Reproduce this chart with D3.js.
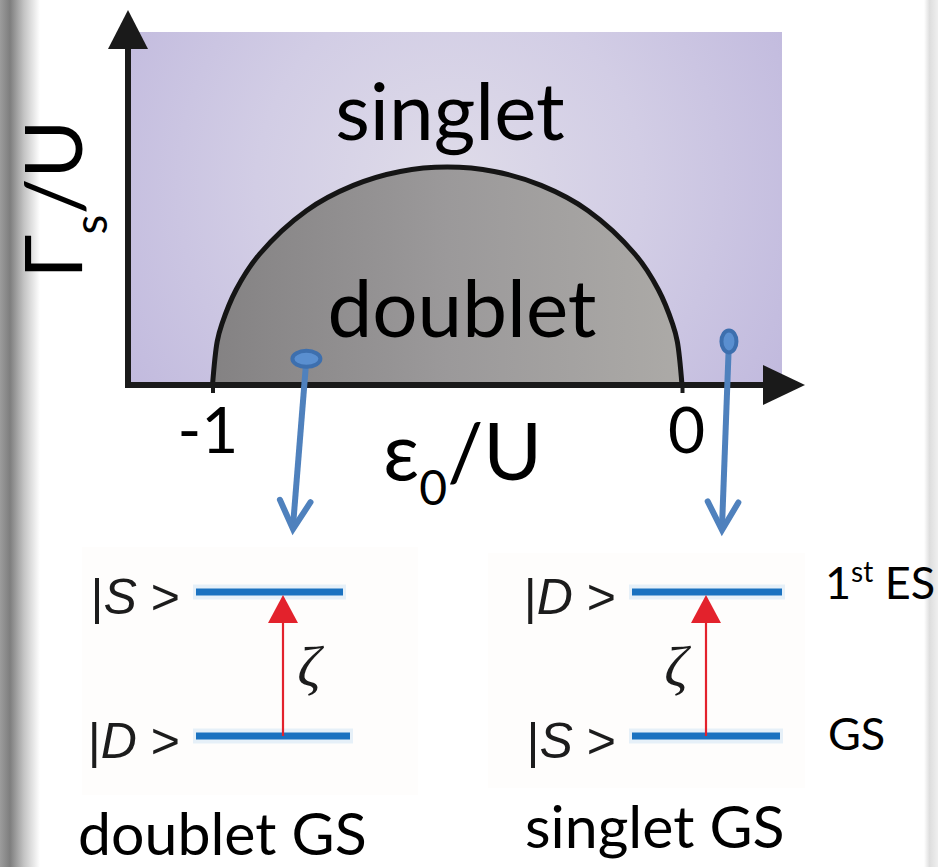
<!DOCTYPE html>
<html>
<head>
<meta charset="utf-8">
<script src="https://cdn.jsdelivr.net/npm/d3@7"></script>
<style>
  html, body { margin: 0; padding: 0; background: #ffffff; }
  svg { display: block; }
</style>
</head>
<body>
<div id="chart"></div>
<script>
// ---- data -------------------------------------------------------------
// phase boundary Γs/U(ε0/U) between the doublet dome and the singlet region
const boundaryEps   = [-1.00, -0.99, -0.98, -0.95, -0.90, -0.80, -0.70, -0.60, -0.50, -0.40, -0.30, -0.20, -0.10, -0.05, -0.02, -0.01, 0.00];
const boundaryGamma = [ 0.000, 0.100, 0.140, 0.218, 0.300, 0.400, 0.458, 0.490, 0.500, 0.490, 0.458, 0.400, 0.300, 0.218, 0.140, 0.100, 0.000];
const xTickValues = [-1, 0];
const xTickLabels = ["-1", "0"];
const phaseNames = ["singlet", "doublet"];
// probe points picked in the phase diagram (one per level scheme)
const probeEps   = [-0.80, 0.10];
const probeGamma = [ 0.06, 0.10];
// level schemes: ground (0) and first excited (1) states
const upperStates = ["S", "D"];
const lowerStates = ["D", "S"];
const schemeTitles = ["doublet GS", "singlet GS"];
const levelNames = ["1st ES", "GS"];

// ---- layout -------------------------------------------------------------
const W = 938, H = 867;
const plot = { left: 128, right: 782, top: 32, bottom: 385 };
const svg = d3.select("#chart").append("svg").attr("width", W).attr("height", H);
const defs = svg.append("defs");

const x = d3.scaleLinear().domain([-1.18, 0.213]).range([plot.left, plot.right]);
const y = d3.scaleLinear().domain([0, 0.81]).range([plot.bottom, plot.top]);

const ink = "#1a1a1a";
const mainFont = "Lato, 'Open Sans', sans-serif";

// gradients
const bg = defs.append("radialGradient").attr("id", "bgGrad")
  .attr("gradientUnits", "userSpaceOnUse").attr("cx", 450).attr("cy", 185).attr("r", 430);
bg.append("stop").attr("offset", 0).attr("stop-color", "#dfdce9");
bg.append("stop").attr("offset", 0.45).attr("stop-color", "#d2cde5");
bg.append("stop").attr("offset", 1).attr("stop-color", "#bdb5dc");

const dome = defs.append("linearGradient").attr("id", "domeGrad")
  .attr("gradientUnits", "userSpaceOnUse").attr("x1", x(-1)).attr("x2", x(0)).attr("y1", 0).attr("y2", 0);
dome.append("stop").attr("offset", 0).attr("stop-color", "#848283");
dome.append("stop").attr("offset", 0.5).attr("stop-color", "#9b999a");
dome.append("stop").attr("offset", 1).attr("stop-color", "#acaaa7");

const shL = defs.append("linearGradient").attr("id", "shadowL")
  .attr("gradientUnits", "userSpaceOnUse").attr("x1", 0).attr("x2", 40).attr("y1", 0).attr("y2", 0);
shL.append("stop").attr("offset", 0).attr("stop-color", "#9c9c9c");
shL.append("stop").attr("offset", 0.25).attr("stop-color", "#7e7e7e");
shL.append("stop").attr("offset", 0.6).attr("stop-color", "#c4c4c4");
shL.append("stop").attr("offset", 1).attr("stop-color", "#ffffff");

const shR = defs.append("linearGradient").attr("id", "shadowR")
  .attr("gradientUnits", "userSpaceOnUse").attr("x1", 924).attr("x2", 938).attr("y1", 0).attr("y2", 0);
shR.append("stop").attr("offset", 0).attr("stop-color", "#ffffff");
shR.append("stop").attr("offset", 0.4).attr("stop-color", "#dedede");
shR.append("stop").attr("offset", 1).attr("stop-color", "#efefef");

defs.append("filter").attr("id", "soft")
  .attr("filterUnits", "userSpaceOnUse").attr("x", 0).attr("y", 0).attr("width", W).attr("height", H)
  .append("feGaussianBlur").attr("stdDeviation", 0.6);

// page edges
svg.append("rect").attr("x", 0).attr("y", 0).attr("width", 40).attr("height", H).attr("fill", "url(#shadowL)");
svg.append("rect").attr("x", 924).attr("y", 0).attr("width", 14).attr("height", H).attr("fill", "url(#shadowR)");

// ---- phase diagram ------------------------------------------------------
svg.append("rect")
  .attr("x", plot.left).attr("y", plot.top)
  .attr("width", plot.right - plot.left).attr("height", plot.bottom - plot.top)
  .attr("fill", "url(#bgGrad)");

const boundary = boundaryEps.map((e, i) => [e, boundaryGamma[i]]);
const area = d3.area().x(d => x(d[0])).y0(y(0)).y1(d => y(d[1])).curve(d3.curveCatmullRom);
const line = d3.line().x(d => x(d[0])).y(d => y(d[1])).curve(d3.curveCatmullRom);

svg.append("path").datum(boundary).attr("d", area).attr("fill", "url(#domeGrad)");
svg.append("path").datum(boundary).attr("d", line)
  .attr("fill", "none").attr("stroke", "#151515").attr("stroke-width", 5);

// axes with arrowheads
const xEnd = x.range()[1] + 23;
svg.append("line").attr("x1", plot.left - 3).attr("x2", xEnd - 30)
  .attr("y1", y(0)).attr("y2", y(0)).attr("stroke", ink).attr("stroke-width", 6);
svg.append("path").attr("d", `M${xEnd},${y(0)} L${xEnd - 42},${y(0) - 20} L${xEnd - 42},${y(0) + 20} Z`).attr("fill", ink);

const yEnd = plot.top - 22;
svg.append("line").attr("x1", plot.left).attr("x2", plot.left)
  .attr("y1", y(0) + 3).attr("y2", yEnd + 30).attr("stroke", ink).attr("stroke-width", 6);
svg.append("path").attr("d", `M${plot.left},${yEnd} L${plot.left - 20},${yEnd + 39} L${plot.left + 20},${yEnd + 39} Z`).attr("fill", ink);

// ticks and tick labels
const xAxis = d3.axisBottom(x).tickValues(xTickValues).tickSize(8)
  .tickFormat((d, i) => xTickLabels[i]);
const gx = svg.append("g").attr("transform", `translate(0,${y(0)})`).call(xAxis);
gx.select(".domain").remove();
gx.selectAll(".tick line").attr("stroke", ink).attr("stroke-width", 4);
gx.selectAll(".tick text")
  .attr("y", 68).attr("dy", 0)
  .attr("dx", (d, i) => i === 0 ? -5 : 4)
  .attr("fill", "#000").attr("font-family", mainFont).attr("font-size", 64);

// axis titles
const xt = svg.append("text").attr("x", 383).attr("y", 480)
  .attr("font-family", mainFont).attr("font-size", 80).attr("fill", "#000");
xt.append("tspan").text("ε");
xt.append("tspan").attr("font-size", 48).attr("dy", 25).text("0");
xt.append("tspan").attr("dy", -25).text("/U");

const yt = svg.append("text").attr("transform", "translate(82,199) rotate(-90)")
  .attr("text-anchor", "middle")
  .attr("font-family", mainFont).attr("font-size", 80).attr("fill", "#000");
yt.append("tspan").text("Γ");
yt.append("tspan").attr("font-size", 46).attr("dy", 25).text("s");
yt.append("tspan").attr("dy", -25).text("/U");

// phase names
const phasePos = [[450, 140], [462, 337]];
svg.selectAll("text.phase").data(phaseNames).join("text")
  .attr("class", "phase")
  .attr("x", (d, i) => phasePos[i][0]).attr("y", (d, i) => phasePos[i][1])
  .attr("text-anchor", "middle")
  .attr("font-family", mainFont).attr("font-size", 80).attr("fill", "#000")
  .text(d => d);

// ---- level schemes ----------------------------------------------------
const energy = d3.scaleLinear().domain([0, 1]).range([736, 592]);
const schemes = [
  { x0: 196, x1: [350, 343], arrowX: 283, zetaX: 309, tip: [293, 529], box: [82, 547, 336, 248] },
  { x0: 632, x1: [780, 782], arrowX: 706, zetaX: 676, tip: [722, 530], box: [488, 553, 317, 235] }
];
const levelBlue = "#1b72c0";
const red = "#e3222c";
const probeBlue = "#4f81bd";

schemes.forEach((s, i) => {
  const g = svg.append("g");
  g.append("rect").attr("x", s.box[0]).attr("y", s.box[1]).attr("width", s.box[2]).attr("height", s.box[3])
    .attr("fill", "#fefdfc");

  // energy levels
  [0, 1].forEach(lv => {
    const x1 = s.x1[lv];
    g.append("line").attr("x1", s.x0 - 3).attr("x2", x1 + 3).attr("y1", energy(lv)).attr("y2", energy(lv))
      .attr("stroke", "#dcebf7").attr("stroke-width", 15).attr("opacity", 0.7);
    g.append("line").attr("x1", s.x0).attr("x2", x1).attr("y1", energy(lv)).attr("y2", energy(lv))
      .attr("stroke", levelBlue).attr("stroke-width", 7);
    const name = lv === 1 ? upperStates[i] : lowerStates[i];
    const t = g.append("text").attr("x", s.x0 - 16).attr("y", energy(lv) + 22)
      .attr("text-anchor", "end").attr("font-family", "'Liberation Sans', Arial, sans-serif")
      .attr("font-size", 50).attr("fill", "#1a1a1a").attr("filter", "url(#soft)");
    t.append("tspan").text("|");
    t.append("tspan").attr("font-style", "italic").text(name);
    t.append("tspan").text(" >");
  });

  // excitation arrow ζ
  const top = energy(1) + 3;
  g.append("line").attr("x1", s.arrowX).attr("x2", s.arrowX).attr("y1", energy(0)).attr("y2", top + 20)
    .attr("stroke", red).attr("stroke-width", 2.2);
  g.append("path").attr("d", `M${s.arrowX},${top} L${s.arrowX - 15},${top + 28} L${s.arrowX + 15},${top + 28} Z`)
    .attr("fill", red);
  g.append("text").attr("x", s.zetaX).attr("y", 686).attr("text-anchor", "middle")
    .attr("font-family", "'Liberation Serif', 'DejaVu Serif', serif").attr("font-style", "italic")
    .attr("font-size", 58).attr("fill", "#1a1a1a").attr("filter", "url(#soft)").text("ζ");

  // probe arrow from the phase diagram to the scheme
  const px = x(probeEps[i]), py = y(probeGamma[i]);
  const [tx, ty] = s.tip;
  svg.append("line").attr("x1", px).attr("y1", py).attr("x2", tx).attr("y2", ty - 3)
    .attr("stroke", probeBlue).attr("stroke-width", 6);
  const ang = Math.atan2(ty - py, tx - px);
  const armL = 32, spread = 0.5;
  svg.append("path")
    .attr("d", `M${tx - armL * Math.cos(ang - spread)},${ty - armL * Math.sin(ang - spread)} L${tx},${ty} L${tx - armL * Math.cos(ang + spread)},${ty - armL * Math.sin(ang + spread)}`)
    .attr("fill", "none").attr("stroke", probeBlue).attr("stroke-width", 6)
    .attr("stroke-linecap", "round").attr("stroke-linejoin", "miter");
  svg.append("ellipse").attr("cx", px).attr("cy", py)
    .attr("rx", i === 0 ? 14 : 7.5).attr("ry", i === 0 ? 8 : 11)
    .attr("fill", "#5a8fd0").attr("stroke", "#3d6fae").attr("stroke-width", 4);
});

// level names on the right
const levelPos = [[825, 599], [828, 750]];
levelNames.forEach((n, i) => {
  const t = svg.append("text").attr("x", levelPos[i][0]).attr("y", levelPos[i][1])
    .attr("font-family", mainFont).attr("font-size", 45).attr("fill", "#000");
  if (n.startsWith("1st")) {
    t.append("tspan").text("1");
    t.append("tspan").attr("font-size", 28).attr("dy", -17).text("st");
    t.append("tspan").attr("dy", 17).text(" ES");
  } else {
    t.text(n);
  }
});

// scheme titles
const titlePos = [[78, 855], [525, 848]];
svg.selectAll("text.title").data(schemeTitles).join("text")
  .attr("class", "title")
  .attr("x", (d, i) => titlePos[i][0]).attr("y", (d, i) => titlePos[i][1])
  .attr("font-family", mainFont).attr("font-size", 59).attr("fill", "#000")
  .text(d => d);
</script>
</body>
</html>
